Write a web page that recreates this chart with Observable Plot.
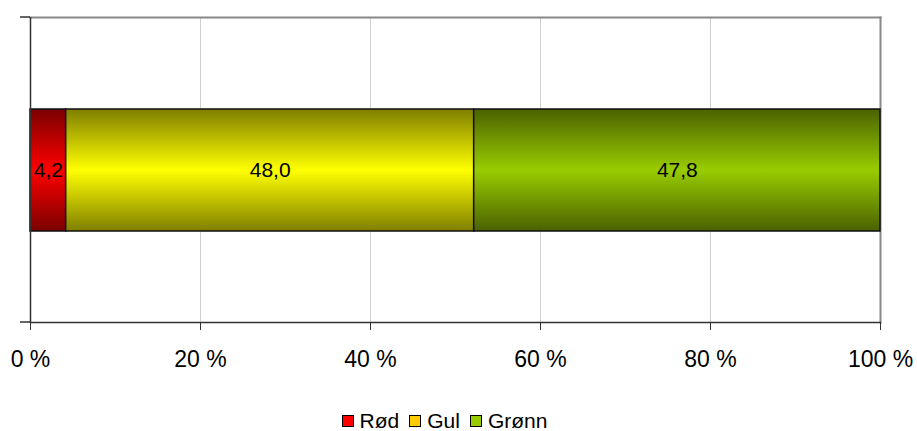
<!DOCTYPE html>
<html>
<head>
<meta charset="utf-8">
<script src="https://cdn.jsdelivr.net/npm/d3@7"></script>
<script src="https://cdn.jsdelivr.net/npm/@observablehq/plot@0.6"></script>
<style>
  body { margin: 0; background: #fff; font-family: "Liberation Sans", Arial, sans-serif; }
  #legend { display: flex; justify-content: center; align-items: center; gap: 10px; font-size: 21px; color: #000; height: 52px; padding-right: 28px; }
  .item { display: flex; align-items: center; gap: 6px; }
  .sw { width: 10px; height: 10px; border: 1px solid #000; display: inline-block; }
</style>
</head>
<body>
<div id="chart"></div>
<div id="legend"></div>
<script>
const categories = ["Rød", "Gul", "Grønn"];
const values = [4.2, 48.0, 47.8];
const rowLabel = ["Alle"];
const xTicks = [0, 20, 40, 60, 80, 100];
const legendColors = ["#ff0000", "#ffcc00", "#99cc00"];
const gradTop = ["#7a0000", "#7f7f00", "#4a6200"];
const gradMid = ["#ff0000", "#ffff00", "#99cc00"];

const data = categories.map((c, i) => ({ cat: c, value: values[i], row: rowLabel[0], idx: i }));
const fmt = v => d3.format(".1f")(v).replace(".", ",");

const defs = () => {
  const d = d3.create("svg:defs");
  categories.forEach((c, i) => {
    const g = d.append("linearGradient").attr("id", "g" + i).attr("x1", 0).attr("x2", 0).attr("y1", 0).attr("y2", 1);
    g.append("stop").attr("offset", "0%").attr("stop-color", gradTop[i]);
    g.append("stop").attr("offset", "50%").attr("stop-color", gradMid[i]);
    g.append("stop").attr("offset", "100%").attr("stop-color", gradTop[i]);
  });
  return d.node();
};

const cornerTicks = (index, scales, values, dim) => {
  const g = d3.create("svg:g").attr("stroke", "#333").attr("stroke-width", 1.5);
  const x = dim.marginLeft;
  [dim.marginTop, dim.height - dim.marginBottom].forEach(y => {
    g.append("line").attr("x1", x - 10).attr("x2", x).attr("y1", y).attr("y2", y);
  });
  return g.node();
};

const chart = Plot.plot({
  width: 917,
  height: 395,
  marginLeft: 30,
  marginRight: 37,
  marginTop: 17,
  marginBottom: 73,
  style: { fontFamily: "Liberation Sans, Arial, sans-serif", fontSize: "21px", color: "#000" },
  x: { domain: [0, 100] },
  y: { domain: rowLabel, padding: 0.4286, axis: null },
  marks: [
    defs,
    Plot.gridX(xTicks.slice(1, -1), { stroke: "#d0d0d0", strokeOpacity: 1, strokeWidth: 1 }),
    Plot.frame({ anchor: "top", stroke: "#888", strokeWidth: 2 }),
    Plot.frame({ anchor: "right", stroke: "#888", strokeWidth: 2 }),
    Plot.barX(data, Plot.stackX({
      x: "value", y: "row", z: "cat", order: null,
      fill: d => "url(#g" + d.idx + ")", stroke: "#111", strokeWidth: 1.5, insetTop: 0, insetBottom: 0
    })),
    Plot.text(data, Plot.stackX({
      x: "value", y: "row", z: "cat", order: null,
      text: d => fmt(d.value), fill: "#000", fontSize: 21
    })),
    Plot.ruleX([0], { stroke: "#333", strokeWidth: 1.5 }),
    Plot.axisX(xTicks, { tickFormat: d => d + " %", tickSize: 8, tickPadding: 20, fontSize: 23, stroke: "#333", label: null }),
    Plot.frame({ anchor: "bottom", stroke: "#333", strokeWidth: 1.5 }),
    cornerTicks
  ]
});
document.getElementById("chart").appendChild(chart);

const legend = document.getElementById("legend");
categories.forEach((c, i) => {
  const it = document.createElement("span");
  it.className = "item";
  const sw = document.createElement("span");
  sw.className = "sw";
  sw.style.background = legendColors[i];
  it.appendChild(sw);
  it.appendChild(document.createTextNode(c));
  legend.appendChild(it);
});
</script>
</body>
</html>
